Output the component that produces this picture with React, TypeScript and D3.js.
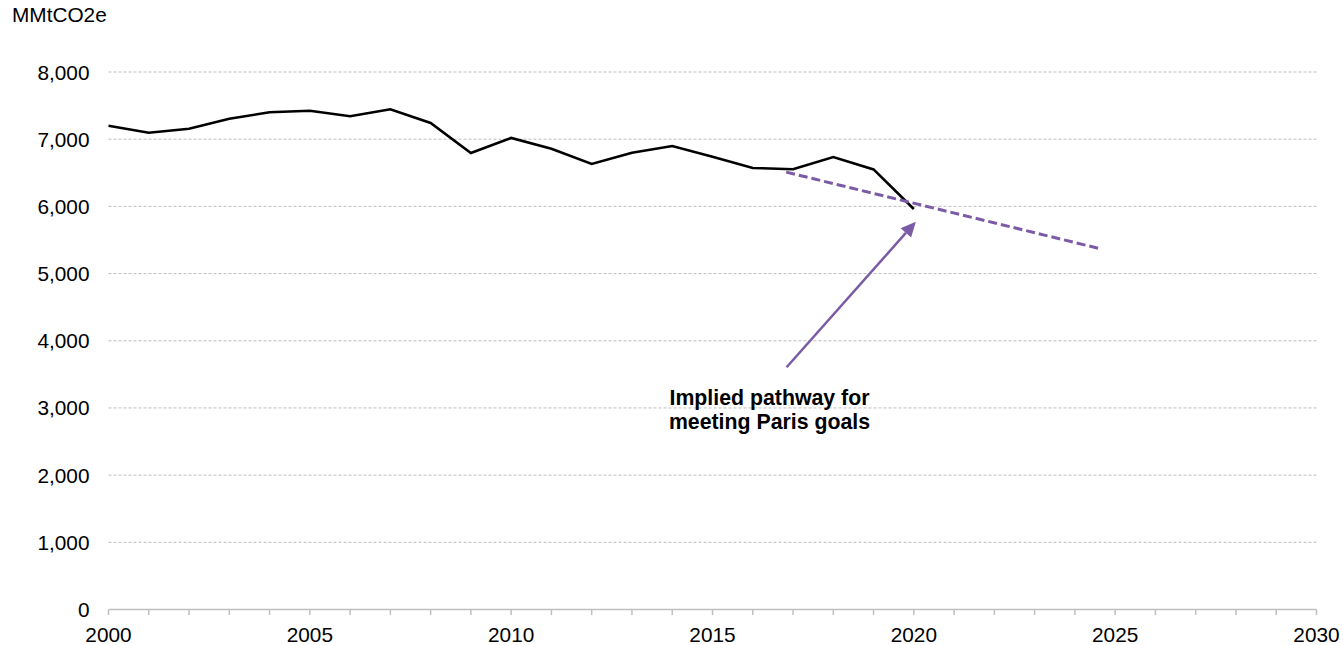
import React from "react";
import * as d3 from "d3";

const years = [2000, 2001, 2002, 2003, 2004, 2005, 2006, 2007, 2008, 2009, 2010, 2011, 2012, 2013, 2014, 2015, 2016, 2017, 2018, 2019, 2020];
const emissions = [7200, 7097, 7156, 7305, 7400, 7424, 7341, 7445, 7241, 6795, 7018, 6859, 6631, 6799, 6899, 6740, 6572, 6552, 6735, 6550, 5961];
const pathwayYears = [2016.83, 2024.58];
const pathwayValues = [6510, 5377];
const yTicks = [0, 1000, 2000, 3000, 4000, 5000, 6000, 7000, 8000];
const xLabelYears = [2000, 2005, 2010, 2015, 2020, 2025, 2030];
const annotationLines = ["Implied pathway for", "meeting Paris goals"];
const arrowFrom = { year: 2016.84, value: 3605 };
const arrowTo = { year: 2020.05, value: 5772 };

const W = 1343;
const H = 645;
const FONT = "'Liberation Sans', Arial, sans-serif";
const PURPLE = "#7b5aa6";

export default function App() {
  const x = d3.scaleLinear().domain([2000, 2030]).range([108.5, 1316.5]);
  const y = d3.scaleLinear().domain([0, 8000]).range([609.5, 72]);
  const line = d3
    .line<number>()
    .x((_, i) => x(years[i]))
    .y((d) => y(d));
  const pLine = d3
    .line<number>()
    .x((_, i) => x(pathwayYears[i]))
    .y((d) => y(d));
  const allYears = d3.range(2000, 2031);

  const ax0 = x(arrowFrom.year);
  const ay0 = y(arrowFrom.value);
  const ax1 = x(arrowTo.year);
  const ay1 = y(arrowTo.value);
  const ang = Math.atan2(ay1 - ay0, ax1 - ax0);
  const headLen = 15;
  const headW = 7;
  const bx = ax1 - headLen * Math.cos(ang);
  const by = ay1 - headLen * Math.sin(ang);
  const px = -Math.sin(ang);
  const py = Math.cos(ang);
  const head = `M${ax1},${ay1} L${bx + headW * px},${by + headW * py} L${bx - headW * px},${by - headW * py} Z`;

  return (
    <svg
      width={W}
      height={H}
      style={{ position: "absolute", left: 0, top: 0, background: "#fff" }}
      fontFamily={FONT}
    >
      <text x={12} y={22} fontSize={20.8} fill="#000">
        MMtCO2e
      </text>
      {yTicks
        .filter((t) => t > 0)
        .map((t) => (
          <line
            key={"g" + t}
            x1={x(2000)}
            x2={x(2030)}
            y1={y(t)}
            y2={y(t)}
            stroke="#bdbdbd"
            strokeWidth={1}
            strokeDasharray="3,2"
          />
        ))}
      {yTicks.map((t) => (
        <text
          key={"yl" + t}
          x={89.5}
          y={y(t) + 7.5}
          textAnchor="end"
          fontSize={20.8}
          fill="#000"
        >
          {d3.format(",")(t)}
        </text>
      ))}
      <line x1={x(2000)} x2={x(2030)} y1={y(0)} y2={y(0)} stroke="#bfbfbf" strokeWidth={1.5} />
      {allYears.map((yr) => (
        <line
          key={"t" + yr}
          x1={x(yr)}
          x2={x(yr)}
          y1={y(0)}
          y2={y(0) + 5.5}
          stroke="#bfbfbf"
          strokeWidth={1.5}
        />
      ))}
      {xLabelYears.map((yr) => (
        <text
          key={"xl" + yr}
          x={x(yr)}
          y={641.5}
          textAnchor="middle"
          fontSize={20.8}
          fill="#000"
        >
          {yr}
        </text>
      ))}
      <path d={line(emissions) || ""} fill="none" stroke="#000" strokeWidth={2.6} strokeLinejoin="miter" />
      <path
        d={pLine(pathwayValues) || ""}
        fill="none"
        stroke={PURPLE}
        strokeWidth={3}
        strokeDasharray="9,4"
      />
      <line x1={ax0} y1={ay0} x2={bx} y2={by} stroke={PURPLE} strokeWidth={2.5} />
      <path d={head} fill={PURPLE} />
      {annotationLines.map((l, i) => (
        <text
          key={"a" + i}
          x={769.5}
          y={404.5 + i * 24.5}
          textAnchor="middle"
          fontSize={21.3}
          fontWeight="bold"
          fill="#000"
        >
          {l}
        </text>
      ))}
    </svg>
  );
}
